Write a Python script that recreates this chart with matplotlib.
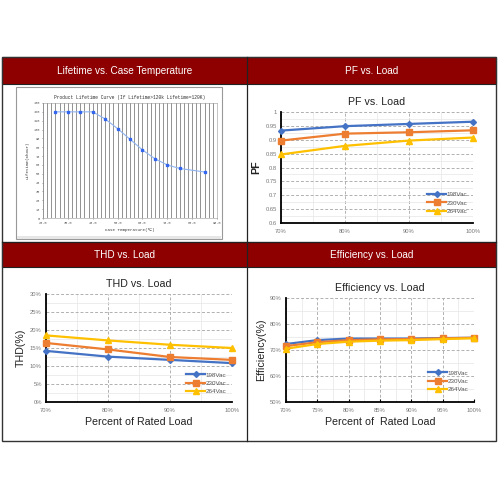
import numpy as np
import matplotlib.pyplot as plt
from matplotlib.patches import Rectangle
from matplotlib.ticker import MultipleLocator, FixedLocator

plt.rcParams['font.family'] = ['Liberation Sans', 'DejaVu Sans']

# Data
temp = [25, 30, 35, 40, 45, 50, 55, 60, 65, 70, 75, 85]
life = [120, 120, 120, 120, 112, 101, 89, 77, 67, 60, 56, 52]

load4 = [70, 80, 90, 100]
pf_198 = [0.933, 0.949, 0.957, 0.965]
pf_230 = [0.897, 0.922, 0.927, 0.934]
pf_264 = [0.847, 0.878, 0.897, 0.908]

thd_198 = [14.2, 12.6, 11.7, 10.8]
thd_230 = [16.4, 14.6, 12.5, 11.7]
thd_264 = [18.5, 17.1, 15.9, 15.0]

load7 = [70, 75, 80, 85, 90, 95, 100]
eff_198 = [72.3, 73.8, 74.4, 74.4, 74.4, 74.6, 74.7]
eff_230 = [71.5, 73.0, 73.8, 74.1, 74.2, 74.5, 74.7]
eff_264 = [70.5, 72.3, 73.2, 73.6, 73.8, 74.2, 74.5]

series = ['198Vac', '230Vac', '264Vac']
colors = ['#4472C4', '#ED7D31', '#FFC000']
markers = ['D', 's', '^']
msizes = [3, 5, 5]

headers = ['Lifetime vs. Case Temperature', 'PF vs. Load',
           'THD vs. Load', 'Efficiency vs. Load']

RED = '#8E0000'
W = H = 500.0

fig = plt.figure(figsize=(5, 5), dpi=100)
fig.patch.set_facecolor('white')


def ax_px(x0, y0, x1, y1):
    return fig.add_axes([x0 / W, 1 - y1 / H, (x1 - x0) / W, (y1 - y0) / H])


def rect_px(x0, y0, x1, y1, **kw):
    fig.patches.append(Rectangle((x0 / W, 1 - y1 / H), (x1 - x0) / W, (y1 - y0) / H,
                                 transform=fig.transFigure, zorder=-1, **kw))


# table
L, R, MID = 2, 496, 247
rows = [(57, 84, 242), (242, 267, 441)]
for top, hb, bot in rows:
    rect_px(L, top, R, hb, facecolor=RED, edgecolor='#222222', lw=0.8)
rect_px(L, 57, R, 441, facecolor='none', edgecolor='#333333', lw=1.0)
fig.lines.append(plt.Line2D([MID / W, MID / W], [1 - 441 / H, 1 - 57 / H],
                            transform=fig.transFigure, color='#222222', lw=0.9))
fig.lines.append(plt.Line2D([L / W, R / W], [1 - 242 / H, 1 - 242 / H],
                            transform=fig.transFigure, color='#222222', lw=0.9))
centers = [((L + MID) / 2, 71), ((MID + R) / 2, 71),
           ((L + MID) / 2, 255), ((MID + R) / 2, 255)]
for (cx, cy), h in zip(centers, headers):
    fig.text(cx / W, 1 - cy / H, h, color='white', fontsize=7.2,
             ha='center', va='center')

# lifetime picture
rect_px(16, 87, 222, 239, facecolor='white', edgecolor='#999999', lw=0.8)
rect_px(17, 236, 221, 239, facecolor='#e6e6e6', edgecolor='none')
ax = ax_px(43, 103, 217, 218)
ax.set_zorder(2)
mono = 'Liberation Mono'
ax.plot(temp, life, color='#8fb3f0', lw=0.8, marker='s', ms=1.6,
        mfc='#3366ee', mec='#3366ee')
ax.set_xlim(20, 90)
ax.set_ylim(0, 130)
for g in np.linspace(20, 90, 43):
    ax.axvline(g, color='#666666', lw=0.5, zorder=0)
ax.set_xticks(np.arange(20, 91, 10))
ax.set_xticklabels(['%.1f' % v for v in np.arange(20, 91, 10)])
ax.set_yticks(np.arange(0, 131, 10))
ax.tick_params(labelsize=2.6, length=1, width=0.4, colors='#555555', pad=1)
for lab in ax.get_xticklabels() + ax.get_yticklabels():
    lab.set_family(mono)
for s in ax.spines.values():
    s.set_color('#999999')
    s.set_linewidth(0.4)
ax.set_title('Product Lifetime Curve (If Lifetime>120k Lifetime=120K)',
             fontsize=3.3, family=mono, color='#333333', pad=3)
ax.set_xlabel('Case Temperature(\u2103)', fontsize=3, family=[mono, 'DejaVu Sans'],
              color='#333333', labelpad=2)
ax.set_ylabel('Lifetime(Khour)', fontsize=3, family=mono, color='#333333', labelpad=3)


def excel_axes(box, x, ys, xlim, ylim, ystep, xlabels, ylabels, title, ylabel,
               xlabel=None, ybold=False, leg_anchor=(1, 0), xticks=False):
    a = ax_px(*box)
    a.set_zorder(2)
    for i, yv in enumerate(ys):
        a.plot(x, yv, color=colors[i], marker=markers[i], ms=msizes[i],
               lw=1.6, label=series[i], clip_on=False, zorder=3 + i)
    a.set_xlim(*xlim)
    a.set_ylim(*ylim)
    a.set_xticks(x)
    a.set_xticklabels(xlabels)
    yt = np.arange(ylim[0], ylim[1] + ystep / 2, ystep)
    a.set_yticks(yt)
    a.set_yticklabels(ylabels)
    a.yaxis.set_minor_locator(MultipleLocator(ystep / 2))
    a.xaxis.set_minor_locator(FixedLocator([(x[i] + x[i + 1]) / 2 for i in range(len(x) - 1)]))
    a.grid(True, which='major', color='#b0b0b0', ls=(0, (3, 2)), lw=0.7)
    a.grid(True, which='minor', color='#e6e6e6', ls='-', lw=0.5)
    a.set_axisbelow(True)
    a.tick_params(axis='both', which='both', labelsize=4.2, colors='#777777',
                  length=0, pad=3)
    if xticks:
        a.tick_params(axis='x', which='major', length=2.5, width=0.8, color='black',
                      direction='in')
    a.tick_params(axis='x', pad=4)
    for k in ['top', 'right']:
        a.spines[k].set_visible(False)
    for k in ['left', 'bottom']:
        a.spines[k].set_color('black')
        a.spines[k].set_linewidth(1.3)
    a.set_title(title, fontsize=7.7, color='#222222', pad=5)
    a.set_ylabel(ylabel, fontsize=7.7, color='#222222',
                 fontweight='bold' if ybold else 'normal', labelpad=3)
    if xlabel:
        a.set_xlabel(xlabel, fontsize=7.7, color='#222222', labelpad=3)
    a.legend(loc='lower right', bbox_to_anchor=leg_anchor, frameon=False,
             fontsize=4.5, handlelength=3, handletextpad=0.1, labelspacing=0.45,
             borderaxespad=0.2, labelcolor='#555555')
    return a


pct4 = ['%d%%' % v for v in load4]
excel_axes((281, 112, 473, 223), load4, [pf_198, pf_230, pf_264], (70, 100),
           (0.6, 1.0), 0.05, pct4,
           ['0.6', '0.65', '0.7', '0.75', '0.8', '0.85', '0.9', '0.95', '1'],
           'PF vs. Load', 'PF', ybold=True, leg_anchor=(0.99, 0.05))

excel_axes((46, 294, 232, 402), load4, [thd_198, thd_230, thd_264], (70, 100),
           (0, 30), 5, pct4, ['%d%%' % v for v in range(0, 31, 5)],
           'THD vs. Load', 'THD(%)', xlabel='Percent of Rated Load',
           leg_anchor=(0.99, 0.04))

excel_axes((286, 298, 474, 402), load7, [eff_198, eff_230, eff_264], (70, 100),
           (50, 90), 10, ['%d%%' % v for v in load7],
           ['%d%%' % v for v in range(50, 91, 10)],
           'Efficiency vs. Load', 'Efficiency(%)', xlabel='Percent of  Rated Load',
           leg_anchor=(0.99, 0.06), xticks=True)

fig.savefig('out.png', dpi=100, facecolor='white')
